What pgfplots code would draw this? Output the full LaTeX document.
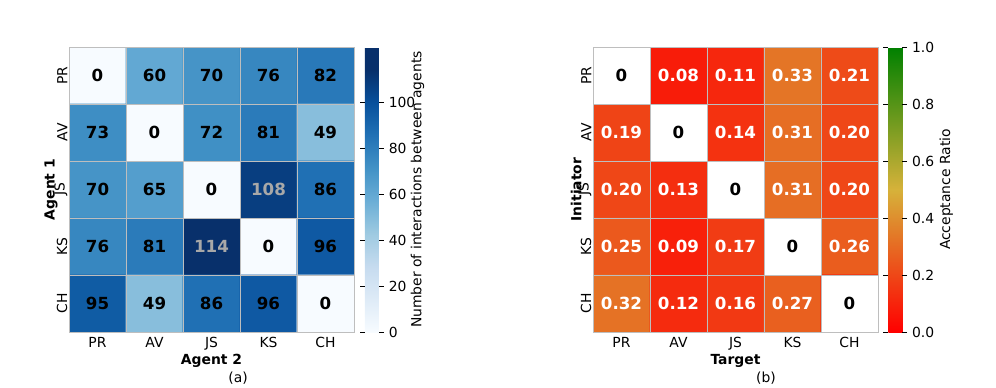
\documentclass[border=0pt]{standalone}
\usepackage{fontspec}
\setmainfont{DejaVu Sans}
\usepackage{pgfplots}
\usepackage{pgfplotstable}
\pgfplotsset{compat=1.18}

\definecolor{cellline}{RGB}{190,190,190}
\definecolor{lblgray}{RGB}{168,168,168}

% interactions between agents (row = Agent 1, column = Agent 2)
\pgfplotstableread{
x y c
0 0 0
1 0 60
2 0 70
3 0 76
4 0 82
0 1 73
1 1 0
2 1 72
3 1 81
4 1 49
0 2 70
1 2 65
2 2 0
3 2 108
4 2 86
0 3 76
1 3 81
2 3 114
3 3 0
4 3 96
0 4 95
1 4 49
2 4 86
3 4 96
4 4 0
}\counts

% acceptance ratio (row = Initiator, column = Target)
\pgfplotstableread{
x y c
0 0 0
1 0 0.08
2 0 0.11
3 0 0.33
4 0 0.21
0 1 0.19
1 1 0
2 1 0.14
3 1 0.31
4 1 0.20
0 2 0.20
1 2 0.13
2 2 0
3 2 0.31
4 2 0.20
0 3 0.25
1 3 0.09
2 3 0.17
3 3 0
4 3 0.26
0 4 0.32
1 4 0.12
2 4 0.16
3 4 0.27
4 4 0
}\ratios

% cell text for the counts: integer, grey on the darkest cells
\newcommand\countlabel{%
  \pgfmathfloatparsenumber{100}\let\cutoff\pgfmathresult
  \pgfmathfloatlessthan{\cutoff}{\pgfplotspointmeta}%
  \ifpgfmathfloatcomparison\color{lblgray}\fi
  \pgfmathfloatparsenumber{0.5}\let\half\pgfmathresult
  \pgfmathfloatadd{\pgfplotspointmeta}{\half}\let\tmp\pgfmathresult
  \pgfmathfloattoint{\tmp}\pgfmathresult}

% cell text for the ratios: two decimals, black 0 on the diagonal
\newcommand\ratiolabel{%
  \pgfmathfloatparsenumber{0.005}\let\cutoff\pgfmathresult
  \pgfmathfloatlessthan{\pgfplotspointmeta}{\cutoff}%
  \ifpgfmathfloatcomparison\color{black}0%
  \else
    \pgfmathfloatparsenumber{100}\let\hund\pgfmathresult
    \pgfmathfloatmultiply{\pgfplotspointmeta}{\hund}\let\tmp\pgfmathresult
    \pgfmathfloatparsenumber{0.5}\let\half\pgfmathresult
    \pgfmathfloatadd{\tmp}{\half}\let\tmp\pgfmathresult
    \pgfmathfloattoint{\tmp}\let\pct\pgfmathresult
    \ifnum\pct<10 0.0\pct\else 0.\pct\fi
  \fi}

\pgfplotsset{
  heat/.style={
    scale only axis, width=205.2pt, height=205.2pt,
    xmin=-0.5, xmax=4.5, ymin=-0.5, ymax=4.5, y dir=reverse,
    xtick={0,1,2,3,4}, ytick={0,1,2,3,4},
    xticklabels={PR,AV,JS,KS,CH}, yticklabels={PR,AV,JS,KS,CH},
    minor xtick={-0.5,0.5,1.5,2.5,3.5,4.5},
    minor ytick={-0.5,0.5,1.5,2.5,3.5,4.5},
    xminorgrids, yminorgrids,
    minor grid style={cellline, line width=0.5pt},
    major tick length=0pt, minor tick length=0pt,
    axis on top, axis line style={cellline, line width=0.5pt},
    tick label style={font=\fontsize{10}{12}\selectfont},
    yticklabel style={rotate=90, anchor=south, inner sep=1pt},
    label style={font=\bfseries\fontsize{10}{12}\selectfont},
    xlabel style={yshift=4pt}, ylabel style={yshift=-7pt},
    colorbar,
    colorbar shift/.style={xshift=7.9pt},
  },
  cbar/.style={
    at={(parent axis.north east)}, anchor=north west,
    width=10.1pt,
    axis line style={draw=none},
    tick align=outside, major tick length=3.5pt,
    major tick style={black, line width=0.6pt},
    yticklabel pos=right,
    /pgf/number format/assume math mode=true,
    tick label style={font=\fontsize{10}{12}\selectfont},
    ylabel style={font=\fontsize{10}{12}\selectfont},
  },
  cells/.style={only marks, mark=none,
    point meta=explicit,
    nodes near coords align={center},
    every node near coord/.append style={anchor=center,
      font=\bfseries\fontsize{12}{14}\selectfont}},
}

\begin{document}
\begin{tikzpicture}
\useasboundingbox (0,0) rectangle (717.12pt,278.64pt);

% (a) interactions
\begin{axis}[heat,
  at={(49.68pt,39.6pt)}, anchor=south west,
  xlabel={Agent 2}, ylabel={Agent 1},
  point meta min=0, point meta max=124,
  colormap={blues}{rgb255(0)=(247,251,255) rgb255(57)=(222,235,247)
    rgb255(114)=(198,219,239) rgb255(171)=(158,202,225) rgb255(228)=(107,174,214)
    rgb255(285)=(66,146,198) rgb255(342)=(33,113,181) rgb255(399)=(8,81,156)
    rgb255(456)=(8,48,107) rgb255(496)=(8,48,107)},
  colorbar style={cbar, ytick={0,20,40,60,80,100},
    ylabel={Number of interactions between agents}, ylabel shift=-10pt},
]
\addplot[matrix plot*, mesh/cols=5, point meta=explicit] table[meta=c] {\counts};
\addplot[cells, nodes near coords={\countlabel},
  every node near coord/.append style={black}] table[meta=c] {\counts};
\end{axis}

% (b) acceptance ratio
\begin{axis}[heat,
  at={(426.96pt,39.6pt)}, anchor=south west,
  xlabel={Target}, ylabel={Initiator},
  point meta min=0, point meta max=1,
  colormap={redgreen}{rgb255(0)=(255,0,0) rgb255(5)=(214,178,58) rgb255(10)=(0,128,0)},
  colorbar shift/.style={xshift=7.4pt},
  colorbar style={cbar, ytick={0,0.2,0.4,0.6,0.8,1},
    yticklabel style={/pgf/number format/.cd, fixed, fixed zerofill, precision=1},
    ylabel={Acceptance Ratio}, ylabel shift=-3pt},
]
\addplot[matrix plot*, mesh/cols=5, point meta=explicit] table[meta=c] {\ratios};
\addplot[fill=white, draw=none] coordinates {(-0.5,-0.5) (0.5,-0.5) (0.5,0.5) (-0.5,0.5)};
\addplot[fill=white, draw=none] coordinates {(0.5,0.5) (1.5,0.5) (1.5,1.5) (0.5,1.5)};
\addplot[fill=white, draw=none] coordinates {(1.5,1.5) (2.5,1.5) (2.5,2.5) (1.5,2.5)};
\addplot[fill=white, draw=none] coordinates {(2.5,2.5) (3.5,2.5) (3.5,3.5) (2.5,3.5)};
\addplot[fill=white, draw=none] coordinates {(3.5,3.5) (4.5,3.5) (4.5,4.5) (3.5,4.5)};
\addplot[cells, nodes near coords={\ratiolabel},
  every node near coord/.append style={white}] table[meta=c] {\ratios};
\end{axis}

\node[font=\fontsize{10}{12}\selectfont] at (171.4pt,6.5pt) {(a)};
\node[font=\fontsize{10}{12}\selectfont] at (551.5pt,6.5pt) {(b)};
\end{tikzpicture}
\end{document}
